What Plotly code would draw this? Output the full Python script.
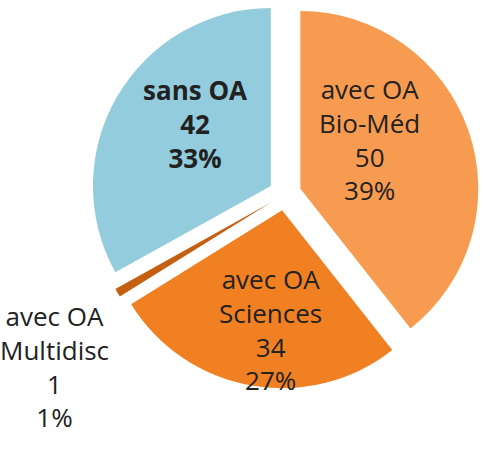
import plotly.graph_objects as go

categories = ["avec OA<br>Bio-Méd", "avec OA<br>Sciences", "avec OA<br>Multidisc", "sans OA"]
values = [50, 34, 1, 42]
colors = ["#F79B50", "#F08022", "#C55F12", "#93CDDD"]
bold = [False, False, False, True]

FONT = "Open Sans, Lato, sans-serif"
FSIZE = 26
TEXT_COLOR = "#222222"
# label anchor positions (paper coordinates), as placed in the original chart
label_pos = [(0.761, 0.694), (0.557, 0.280), (0.113, 0.199), (0.402, 0.729)]

total = sum(values)

fig = go.Figure(go.Pie(
    labels=categories,
    values=values,
    sort=False,
    direction="clockwise",
    rotation=0,
    pull=[0.092] * len(values),
    marker=dict(colors=colors, line=dict(width=0)),
    textinfo="none",
    hoverinfo="label+value+percent",
    showlegend=False,
    domain=dict(x=[0.18, 0.995], y=[0.15, 1.0]),
))

for cat, val, b, (px, py) in zip(categories, values, bold, label_pos):
    txt = f"{cat}<br>{val}<br>{round(val / total * 100)}%"
    if b:
        txt = "<b>" + txt + "</b>"
    fig.add_annotation(
        text=txt, xref="paper", yref="paper", x=px, y=py,
        xanchor="center", yanchor="middle", showarrow=False, align="center",
        font=dict(family=FONT, size=FSIZE, color=TEXT_COLOR),
    )

fig.update_layout(
    width=485, height=457,
    margin=dict(l=0, r=0, t=0, b=0, autoexpand=False),
    paper_bgcolor="white",
    plot_bgcolor="white",
)

fig.write_html("out.html")
